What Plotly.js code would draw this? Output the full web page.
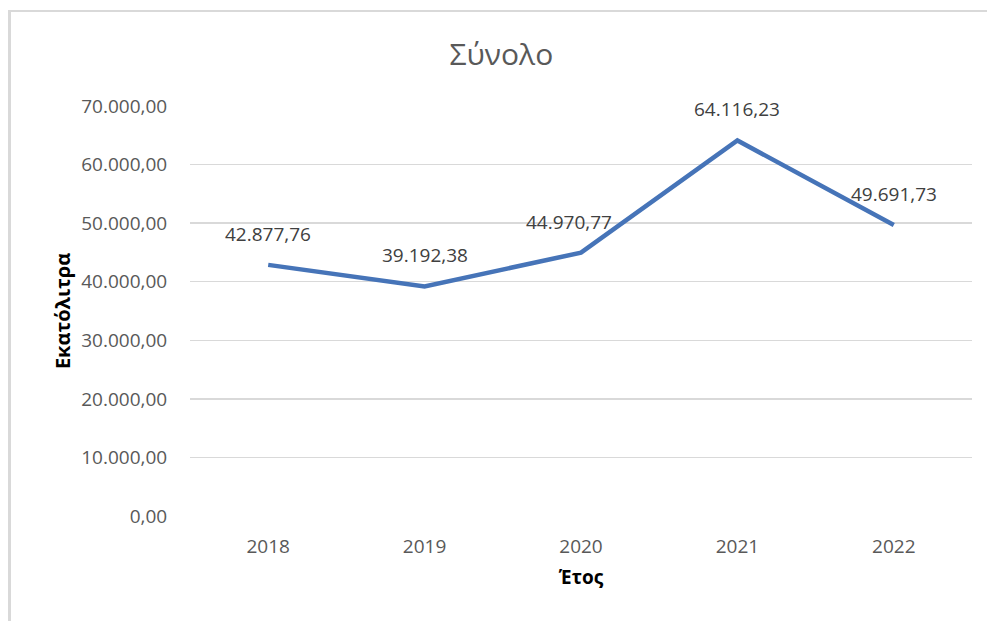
<!DOCTYPE html>
<html>
<head>
<meta charset="utf-8">
<script src="https://cdn.plot.ly/plotly-3.0.1.min.js"></script>
<style>
html,body{margin:0;padding:0;background:#fff;}
#chart{width:987px;height:621px;position:absolute;left:0;top:0;}
#frame{position:absolute;left:8px;top:10px;width:1200px;height:800px;border-left:3px solid #d9d9d9;border-top:2px solid #d9d9d9;pointer-events:none;}
</style>
</head>
<body>
<div id="chart"></div>
<div id="frame"></div>
<script>
const years = ['2018','2019','2020','2021','2022'];
const values = [42877.76, 39192.38, 44970.77, 64116.23, 49691.73];
const yTicks = [0, 10000, 20000, 30000, 40000, 50000, 60000, 70000];
const labelXShift = [0, 0, -12, 0, 0];

function fmt(v){
  const p = v.toFixed(2).split('.');
  p[0] = p[0].replace(/\B(?=(\d{3})+(?!\d))/g, '.');
  return p.join(',');
}

const font = 'Open Sans, Liberation Sans, sans-serif';

const trace = {
  x: years, y: values, type: 'scatter', mode: 'lines',
  line: {color: '#4674B8', width: 4.5},
  hoverinfo: 'skip'
};

const annotations = years.map((yr, i) => ({
  x: i, y: values[i], xref: 'x', yref: 'y',
  text: fmt(values[i]), showarrow: false,
  yshift: 31, xshift: labelXShift[i],
  font: {family: font, size: 19, color: '#404040'}
}));

const layout = {
  width: 987, height: 621,
  margin: {l: 190, r: 15, t: 106, b: 105},
  paper_bgcolor: '#fff', plot_bgcolor: '#fff',
  showlegend: false,
  title: {text: 'Σύνολο', font: {family: font, size: 30, color: '#595959'},
          xref: 'container', x: 0.508, xanchor: 'center', yref: 'container', y: 0.912, yanchor: 'middle'},
  xaxis: {
    type: 'category', range: [-0.5, 4.5], showgrid: false, zeroline: false, showline: false,
    ticks: 'outside', ticklen: 13, tickcolor: 'rgba(0,0,0,0)',
    tickfont: {family: font, size: 19, color: '#595959'},
    title: {text: '<b>Έτος</b>', font: {family: font, size: 19, color: '#000'}, standoff: 12}
  },
  yaxis: {
    range: [0, 70000], tickvals: yTicks, ticktext: yTicks.map(fmt),
    showgrid: true, gridcolor: '#d9d9d9', gridwidth: 1.3, zeroline: false, showline: false,
    ticks: 'outside', ticklen: 18, tickcolor: 'rgba(0,0,0,0)',
    tickfont: {family: font, size: 19, color: '#595959'},
    title: {text: '<b>Εκατόλιτρα</b>', font: {family: font, size: 20, color: '#000'}, standoff: 5}
  },
  annotations: annotations
};

Plotly.newPlot('chart', [trace], layout, {staticPlot: true, displayModeBar: false});
</script>
</body>
</html>
